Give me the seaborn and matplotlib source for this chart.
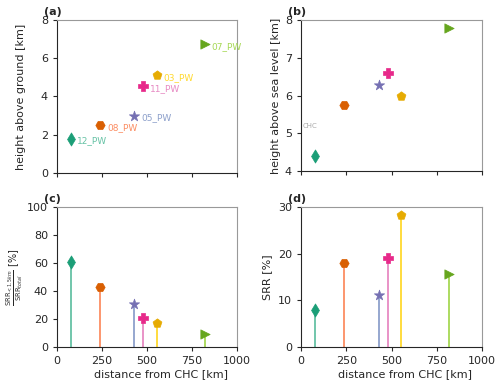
import matplotlib
matplotlib.use("Agg")
import matplotlib.pyplot as plt
import seaborn as sns
import pandas as pd

names = ["12_PW", "08_PW", "05_PW", "11_PW", "03_PW", "07_PW"]
distance = [75, 240, 430, 480, 555, 820]
h_ground = [1.8, 2.5, 3.0, 4.55, 5.1, 6.75]
h_sea = [4.4, 5.75, 6.28, 6.6, 6.0, 7.8]
srr_ratio = [61, 43, 31, 21, 17.5, 9]
srr = [8, 18, 11.2, 19, 28.3, 15.7]
markers = ["d", "H", "*", "P", "p", ">"]
dark = ["#1b9e77", "#d95f02", "#7570b3", "#e7298a", "#e6ab02", "#66a61e"]
light = ["#66c2a5", "#fc8d62", "#8da0cb", "#e78ac3", "#ffd92f", "#a6d854"]

df = pd.DataFrame({"name": names, "dist": distance, "hg": h_ground, "hs": h_sea,
                   "ratio": srr_ratio, "srr": srr})

sns.set_style("ticks")
plt.rcParams["font.family"] = ["DejaVu Sans"]
fs = 8
plt.rcParams.update({"font.size": fs, "axes.labelsize": fs, "xtick.labelsize": fs,
                     "ytick.labelsize": fs})

fig = plt.figure(figsize=(5.0, 3.84), dpi=100)
W, H = 500, 384
def add_ax(l, t, r, b):
    return fig.add_axes([l / W, 1 - b / H, (r - l) / W, (b - t) / H])

axa = add_ax(57, 20, 237, 173)
axb = add_ax(301, 20, 482, 171)
axc = add_ax(57, 207, 237, 347)
axd = add_ax(301, 207, 482, 347)

def scatter(ax, ycol):
    for i in range(len(names)):
        sub = df.iloc[[i]]
        sns.scatterplot(data=sub, x="dist", y=ycol, ax=ax, marker=markers[i],
                        color=dark[i], s=45 if markers[i] != "*" else 60,
                        edgecolor=dark[i], linewidth=0.5, legend=False, zorder=3)

def stems(ax, ycol):
    for i in range(len(names)):
        ax.vlines(df["dist"][i], 0, df[ycol][i], color=light[i], lw=1.3, zorder=2)

scatter(axa, "hg")
for i in range(len(names)):
    axa.annotate(names[i], (distance[i], h_ground[i]), xytext=(5, -3.5),
                 textcoords="offset points", color=light[i], fontsize=6.5)
scatter(axb, "hs")
axb.text(10, 5.2, "CHC", color="#aaaaaa", fontsize=5, va="center")
stems(axc, "ratio")
scatter(axc, "ratio")
stems(axd, "srr")
scatter(axd, "srr")

for ax in [axa, axb, axc, axd]:
    ax.set_xlim(0, 1000)
    ax.set_xticks([0, 250, 500, 750, 1000])
    for s in ["top", "right"]:
        ax.spines[s].set_visible(True)
        ax.spines[s].set_color("#999999")
    ax.tick_params(length=3, width=0.8)

for ax in [axa, axb]:
    ax.set_xticklabels([])
    ax.set_xlabel("")

axa.set_ylim(0, 8)
axa.set_yticks([0, 2, 4, 6, 8])
axa.set_ylabel("height above ground [km]")
axa.yaxis.set_label_coords(-0.175, 0.5)
axb.set_ylim(4, 8)
axb.set_yticks([4, 5, 6, 7, 8])
axb.set_ylabel("height above sea level [km]")
axb.yaxis.set_label_coords(-0.108, 0.5)
axc.set_ylim(0, 100)
axc.set_yticks([0, 20, 40, 60, 80, 100])
axc.set_ylabel(r"$\frac{\mathrm{SRR}_{<1.5km}}{\mathrm{SRR}_{total}}$ [%]", fontsize=7)
axc.yaxis.set_label_coords(-0.18, 0.5)
axd.set_ylim(0, 30)
axd.set_yticks([0, 10, 20, 30])
axd.set_ylabel("SRR [%]")
axd.yaxis.set_label_coords(-0.157, 0.5)
axc.set_xlabel("distance from CHC [km]")
axd.set_xlabel("distance from CHC [km]")
axc.xaxis.set_label_coords(0.578, -0.155)
axd.xaxis.set_label_coords(0.575, -0.155)

for ax, lab in zip([axa, axb, axc, axd], ["(a)", "(b)", "(c)", "(d)"]):
    ax.text(-0.07, 1.02, lab, transform=ax.transAxes, fontweight="bold",
            fontsize=fs, va="bottom")

fig.savefig("out.png", dpi=100)
